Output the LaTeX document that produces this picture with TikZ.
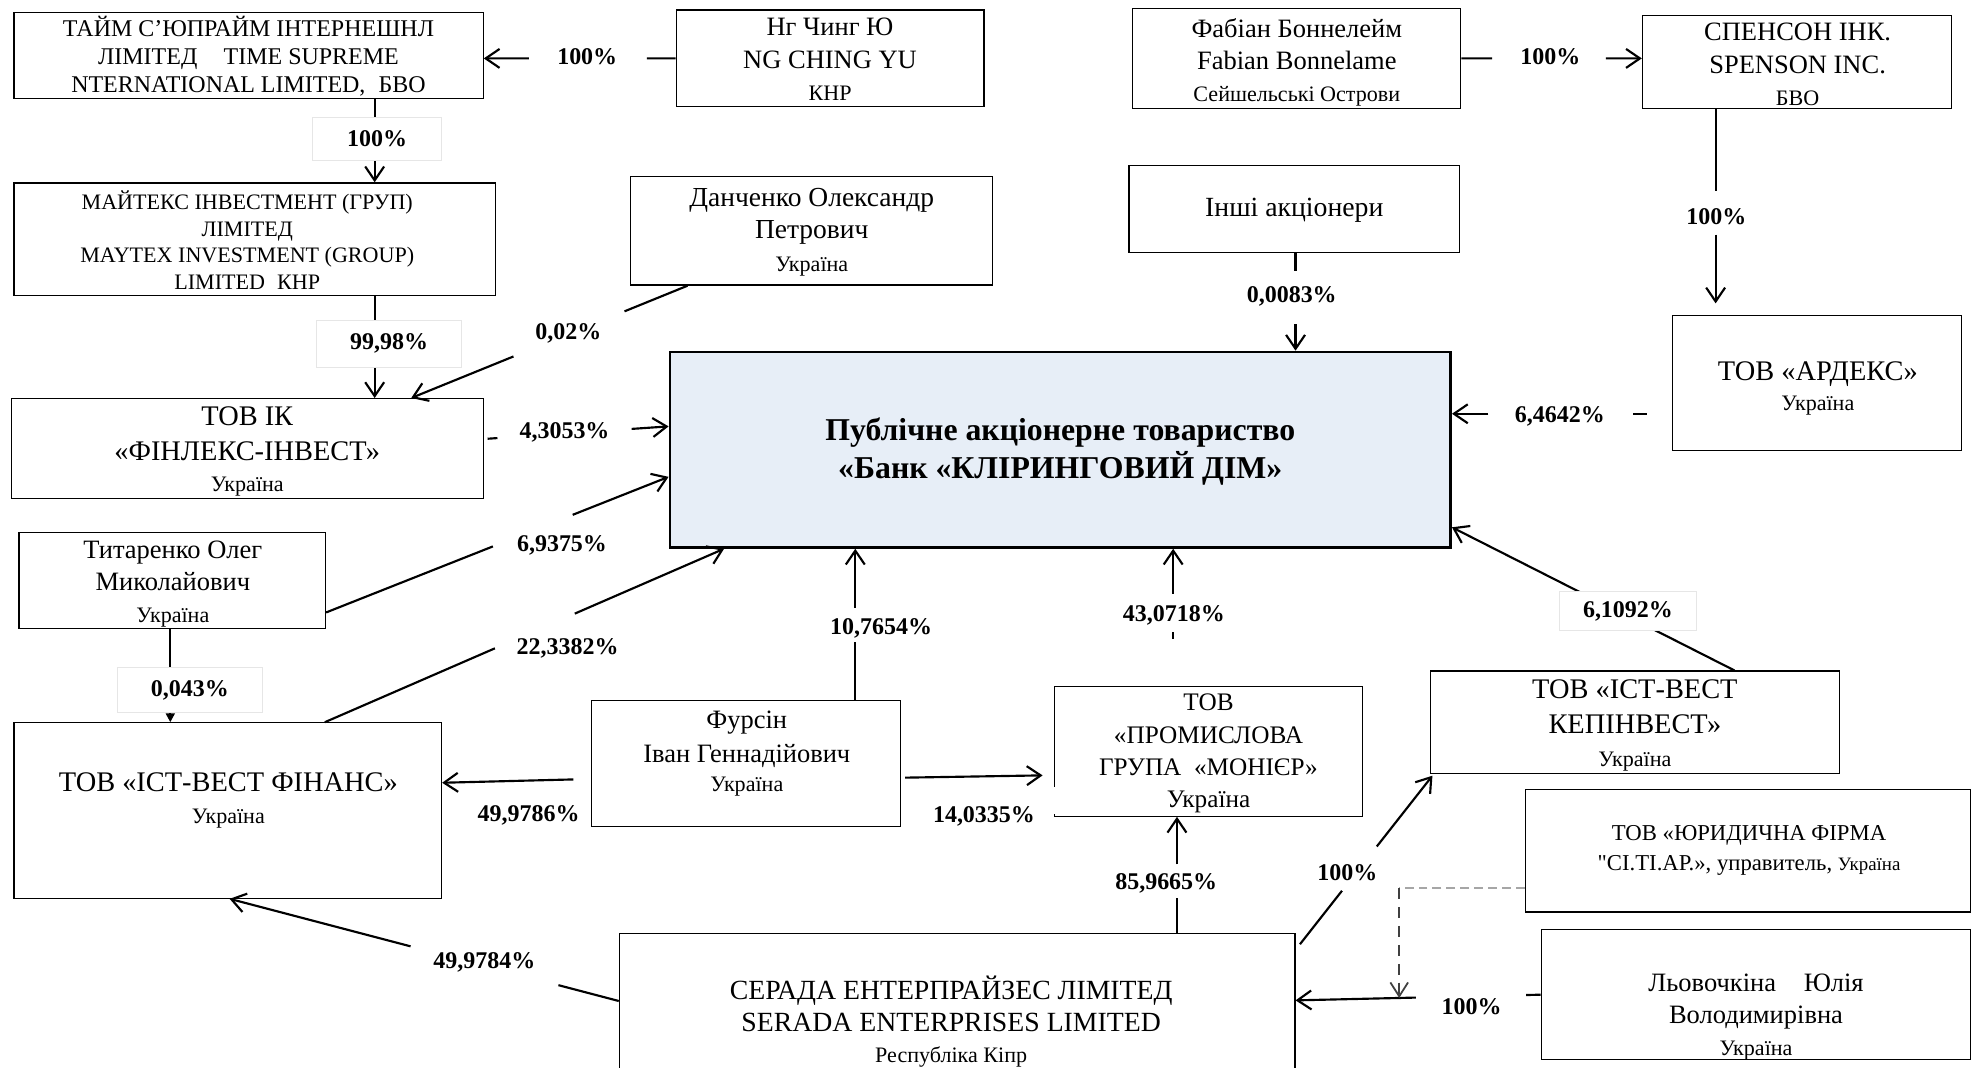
\documentclass[tikz,border=0pt]{standalone}
\usepackage{fontspec}
\setmainfont{Liberation Serif}[Ligatures=TeXOff]
\usetikzlibrary{arrows.meta,calc}
\definecolor{bankfill}{RGB}{231,238,247}
\definecolor{lblframe}{RGB}{230,230,230}
\newcommand\fzN{\fontsize{21}{25.5}\selectfont}
\newcommand\fzC{\fontsize{17.5}{20}\selectfont}
\newcommand\fzT{\fontsize{22.5}{27.5}\selectfont}
\newcommand\fzL{\fontsize{19}{22}\selectfont\bfseries}
% gapped connector: opts first seg, opts second seg, start, end, t1, t2
\newcommand\gapconn[6]{%
  \draw[conn,#1] #3 -- ($#3!#5!#4$);
  \draw[conn,arr,#2] ($#3!#6!#4$) -- #4;}
\begin{document}
\begin{tikzpicture}[x=1pt,y=-1pt,
  box/.style={draw,line width=1pt,inner sep=0pt},
  txt/.style={align=center,inner sep=0pt},
  conn/.style={line width=1.7pt},
  arr/.style={-{Straight Barb[length=11pt,width=15pt]}},
  lbl/.style={font=\fzL,inner sep=0pt},
  lblbox/.style={lbl,draw=lblframe,line width=0.8pt,fill=white}]
\fill[white] (0,0) rectangle (1568,846.6);
\useasboundingbox (0,0) rectangle (1568,846.6);
\clip (0,0) rectangle (1568,846.6);

% ---------- boxes ----------
\node[box,minimum width=372,minimum height=68] (taim) at (197,44) {};
\node[box,minimum width=244,minimum height=76.6] (ng) at (658,46.3) {};
\node[box,minimum width=260,minimum height=79] (fabian) at (1028,46.3) {};
\node[box,minimum width=245,minimum height=74] (spenson) at (1424.5,49) {};
\node[box,minimum width=382,minimum height=89] (maytex) at (202,189.5) {};
\node[box,minimum width=287,minimum height=86] (danchenko) at (643.5,183) {};
\node[box,minimum width=262,minimum height=69] (inshi) at (1026,165.5) {};
\node[box,minimum width=229,minimum height=107] (ardeks) at (1440.5,303.5) {};
\node[box,minimum width=374,minimum height=79] (finleks) at (196,355.5) {};
\node[box,line width=2pt,fill=bankfill,minimum width=619,minimum height=155] (bank) at (840.5,356.5) {};
\node[box,minimum width=243,minimum height=76] (tit) at (136.5,460) {};
\node[box,minimum width=339,minimum height=139] (finans) at (180.5,642.5) {};
\node[box,minimum width=245,minimum height=100] (fursin) at (591.5,605) {};
\node[box,minimum width=244,minimum height=103] (monier) at (958,595.5) {};
\node[box,minimum width=324,minimum height=81] (kepinvest) at (1296,572.5) {};
\node[box,minimum width=353,minimum height=97] (yur) at (1385.5,674.5) {};
\node[box,minimum width=340.5,minimum height=103] (lyov) at (1392,788.5) {};
\node[box,minimum width=535.5,minimum height=140] (serada) at (758.75,810) {};
\fill[white] (834,624) rectangle (838.5,645.5);

% ---------- texts ----------
\node[txt,font=\fontsize{19}{22.5}\selectfont] (taimT) at (197,44.5)
  {ТАЙМ С’ЮПРАЙМ ІНТЕРНЕШНЛ\\ЛІМІТЕД\hspace{1.1em}TIME SUPREME\\NTERNATIONAL LIMITED,\hspace{0.3em} БВО};
\node[txt,font=\fzN] (ngT) at (658,47) {Нг Чинг Ю\\NG CHING YU\\{\fzC КНР}};
\node[txt,font=\fzN] (fabT) at (1028,49.5) {Фабіан Боннелейм\\Fabian Bonnelame\\{\fzC Сейшельські Острови}};
\node[txt,font=\fzN] (spenT) at (1425,51) {СПЕНСОН ІНК.\\SPENSON INC.\\{\fzC БВО}};
\node[txt,font=\fontsize{17.5}{21.2}\selectfont] (mayT) at (196,190.3)
  {МАЙТЕКС ІНВЕСТМЕНТ (ГРУП)\\ЛІМІТЕД\\MAYTEX INVESTMENT (GROUP)\\LIMITED\hspace{0.3em} КНР};
\node[txt,font=\fontsize{21.8}{26}\selectfont] (danT) at (643.5,184) {Данченко Олександр\\Петрович\\{\fzC Україна}};
\node[txt,font=\fontsize{22}{26}\selectfont] (inshiT) at (1026,167) {Інші акціонери};
\node[txt,font=\fzT] (ardT) at (1441,308) {ТОВ «АРДЕКС»\\[-4pt]{\fzC Україна}};
\node[txt,font=\fzT] (finT) at (196,358) {ТОВ ІК\\«ФІНЛЕКС-ІНВЕСТ»\\[-3pt]{\fzC Україна}};
\node[txt,font=\fontsize{25.2}{30}\selectfont\bfseries] (bankT) at (840.5,358)
  {Публічне акціонерне товариство\\«Банк «КЛІРИНГОВИЙ ДІМ»};
\node[txt,font=\fzN] (titT) at (137,463) {Титаренко Олег\\Миколайович\\{\fzC Україна}};
\node[txt,font=\fzT] (finansT) at (181,634.7) {ТОВ «ІСТ-ВЕСТ ФІНАНС»\\[-2pt]{\fzC Україна}};
\node[txt,font=\fzN] (fursT) at (592,597) {Фурсін\\[2pt]Іван Геннадійович\\[-3pt]{\fzC Україна}};
\node[txt,font=\fontsize{20}{25.6}\selectfont] (monT) at (958,597.5)
  {ТОВ\\«ПРОМИСЛОВА\\ГРУПА\hspace{0.5em}«МОНІЄР»\\Україна};
\node[txt,font=\fzT] (kepT) at (1296,575) {ТОВ «ІСТ-ВЕСТ\\КЕПІНВЕСТ»\\[-1.5pt]{\fzC Україна}};
\node[txt,font=\fontsize{18}{23.7}\selectfont] (yurT) at (1386.5,674)
  {ТОВ «ЮРИДИЧНА ФІРМА\\"СІ.ТІ.АР.», управитель, {\fontsize{15}{18}\selectfont Україна}};
\node[txt,font=\fzN] (lyovT) at (1392,806) {Льовочкіна\hspace{0.8em} Юлія\\Володимирівна\\{\fzC Україна}};
\node[txt,font=\fontsize{22}{25}\selectfont] (serT) at (754,810)
  {СЕРАДА ЕНТЕРПРАЙЗЕС ЛІМІТЕД\\SERADA ENTERPRISES LIMITED\\{\fzC Республіка Кіпр}};

% ---------- connector end points ----------
\coordinate (c4s) at ($(danchenko.south)+(-98.5,0)$);
\coordinate (c4e) at ($(finleks.north)+(130,0)$);
\coordinate (c5s) at ($(inshi.south)+(1,0)$);
\coordinate (c7s) at ($(spenson.south)+(-64.5,0)$);
\coordinate (c7e) at ($(ardeks.north)+(-80.5,0)$);
\coordinate (c8s) at ($(ardeks.west)+(0,24.5)$);
\coordinate (c9s) at ($(finleks.east)+(0,-7.5)$);
\coordinate (c9e) at ($(bank.west)+(0,-18.5)$);
\coordinate (c10s) at ($(tit.south east)+(0,-13)$);
\coordinate (c10e) at ($(bank.west)+(0,21.5)$);
\coordinate (c12s) at ($(finans.north west)+(247,0)$);
\coordinate (c12e) at ($(bank.south west)+(44,0)$);
\coordinate (c13s) at ($(fursin.north)+(86.5,0)$);
\coordinate (c14s) at ($(monier.north)+(-28,0)$);
\coordinate (c18s) at ($(serada.west)+(0,-16.5)$);
\coordinate (c18e) at ($(finans.south)+(1.5,0)$);
\coordinate (c19s) at ($(serada.north)+(174.25,0)$);
\coordinate (c20s) at ($(serada.north east)+(3.5,9)$);
\coordinate (c20e) at ($(kepinvest.south west)+(2,1.4)$);
\coordinate (c21e) at ($(serada.east)+(0,-17)$);
\coordinate (dj) at ($(lyov.west)!0.577!(c21e)$);
\coordinate (yd) at ($(yur.west)+(0,29.5)$);
\coordinate (dc) at (dj |- yd);

% ---------- connectors ----------
\gapconn{}{}{(ng.west)}{(ng.west -| taim.east)}{0.15}{0.765}
\draw[conn,arr] ($(taim.south)+(100,0)$) -- ($(maytex.north)+(95,0)$);
\draw[conn,arr] ($(maytex.south)+(95,0)$) -- ($(finleks.north)+(101,0)$);
\gapconn{}{}{(c4s)}{(c4e)}{0.228}{0.63}
\gapconn{}{}{(c5s)}{(c5s |- bank.north)}{0.18}{0.73}
\gapconn{}{}{(fabian.east)}{(fabian.east -| spenson.west)}{0.17}{0.8}
\gapconn{}{shorten >=9pt}{(c7s)}{(c7e)}{0.40}{0.61}
\gapconn{shorten <=20pt}{}{(c8s)}{(c8s -| bank.east)}{0.176}{0.835}
\gapconn{shorten <=3pt}{}{(c9s)}{(c9e)}{0.074}{0.80}
\gapconn{}{}{(c10s)}{(c10e)}{0.487}{0.72}
\draw[conn,-{Triangle[length=7pt,width=7pt]}] ($(tit.south)+(-1.5,0)$) -- ($(finans.north)+(-45.5,0)$);
\gapconn{}{}{(c12s)}{(c12e)}{0.426}{0.626}
\gapconn{}{}{(c13s)}{(c13s |- bank.south)}{0.383}{0.61}
\gapconn{shorten <=37pt}{}{(c14s)}{(c14s |- bank.south)}{0.394}{0.673}
\draw[conn,arr] ($(kepinvest.north)+(79,0)$) -- ($(bank.east)+(0,61.5)$);
\draw[conn,arr,shorten <=14pt] ($(fursin.west)+(0,12.5)$) -- ($(finans.east)+(0,-22)$);
\draw[conn,arr,shorten <=3pt,shorten >=9pt] ($(fursin.east)+(0,11.5)$) -- ($(monier.west)+(0,19)$);
\gapconn{}{}{(c18s)}{(c18e)}{0.155}{0.535}
\gapconn{}{}{(c19s)}{(c19s |- monier.south)}{0.30}{0.59}
\gapconn{}{}{(c20s)}{(c20e)}{0.317}{0.58}
\gapconn{}{}{(lyov.west)}{(c21e)}{0.059}{0.509}
\draw[gray!70,line width=1pt,dash pattern=on 7pt off 4pt] (yd) -- (dc);
\draw[black!75,line width=1.4pt,dash pattern=on 9pt off 6pt,-{Straight Barb[length=11pt,width=14pt]}] (dc) -- (dj);

% ---------- labels ----------
\node[lbl] (l1) at (465.5,45) {100\%};
\node[lblbox,minimum width=102,minimum height=34] (l2) at (299,110) {100\%};
\node[lblbox,minimum width=115,minimum height=37] (l3) at (308.5,272.5) {99,98\%};
\node[lbl] (l4) at (450.5,264) {0,02\%};
\node[lbl] (l5) at (1024,235) {0,0083\%};
\node[lbl] (l6) at (1229,45) {100\%};
\node[lbl] (l7) at (1360.5,172) {100\%};
\node[lbl] (l8) at (1236.5,330) {6,4642\%};
\node[lbl] (l9) at (447.5,343) {4,3053\%};
\node[lbl] (l10) at (445.5,432) {6,9375\%};
\node[lblbox,minimum width=115,minimum height=36] (l11) at (150.5,547) {0,043\%};
\node[lbl] (l12) at (450,514) {22,3382\%};
\node[lbl] (l13) at (698.5,498) {10,7654\%};
\node[lbl] (l14) at (930.5,488) {43,0718\%};
\node[lblbox,minimum width=109,minimum height=31] (l15) at (1290.5,484.5) {6,1092\%};
\node[lbl] (l16) at (419,646) {49,9786\%};
\node[lbl] (l17) at (780,647) {14,0335\%};
\node[lbl] (l18) at (384,763) {49,9784\%};
\node[lbl] (l19) at (924.5,700) {85,9665\%};
\node[lbl] (l20) at (1068,692) {100\%};
\node[lbl] (l21) at (1166.5,798) {100\%};
\end{tikzpicture}
\end{document}
